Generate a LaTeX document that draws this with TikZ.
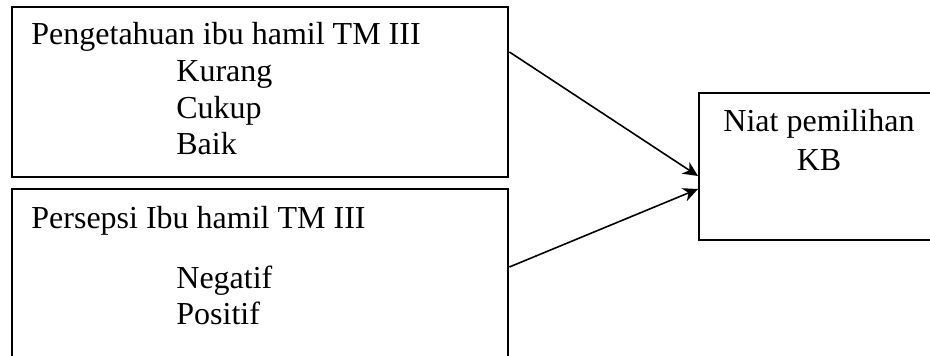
\documentclass[tikz,border=0pt]{standalone}
\usepackage{fontspec}
\setmainfont{Liberation Serif}
\usetikzlibrary{arrows.meta}
\begin{document}
\begin{tikzpicture}[x=0.5pt,y=-0.5pt,
  box/.style={draw=black,line width=1.2pt,rectangle,inner sep=0pt,anchor=north west},
  label/.style={anchor=base west,inner sep=0pt,font=\fontsize{16}{19}\selectfont},
  clabel/.style={anchor=base,inner sep=0pt,font=\fontsize{16}{19}\selectfont},
  link/.style={line width=0.8pt,-{Stealth[length=7.5pt,width=7pt,inset=2.4pt]}}]
\useasboundingbox (0,0) rectangle (930,356);
\clip (0,0) rectangle (930,356);
% three boxes; the lower and the right one run past the edge of the page
\node[box,minimum width=248pt,minimum height=85pt] (know) at (11,6) {};
\node[box,minimum width=248pt,minimum height=110pt] (perc) at (11,188) {};
\node[box,minimum width=150pt,minimum height=73.5pt] (kb) at (698,92) {};
% texts of the upper box
\node[label] (t1) at (31,45) {Pengetahuan ibu hamil TM III};
\node[label] (t1a) at (176,81.7) {Kurang};
\node[label] (t1b) at (176,118.3) {Cukup};
\node[label] (t1c) at (176,155) {Baik};
% texts of the lower box
\node[label] (t2) at (31,228.3) {Persepsi Ibu hamil TM III};
\node[label] (t2a) at (176,288.3) {Negatif};
\node[label] (t2b) at (176,325) {Positif};
% text of the right box
\node[clabel] (t3) at (819,132) {Niat pemilihan};
\node[clabel] (t3a) at (819,170.7) {KB};
% arrows into the right box
\draw[link] ([yshift=-23pt]know.north east) -- ([yshift=-42pt]kb.north west);
\draw[link] ([yshift=-39.5pt]perc.north east) -- ([yshift=-48.5pt]kb.north west);
\end{tikzpicture}
\end{document}
